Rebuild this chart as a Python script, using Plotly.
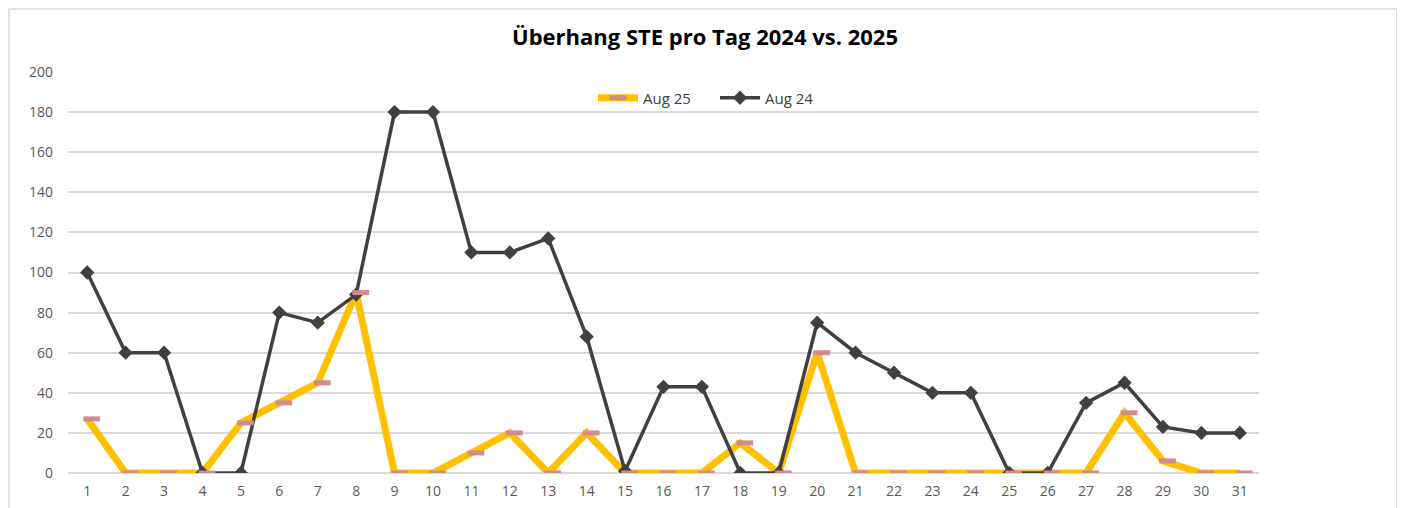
import plotly.graph_objects as go

days = [str(d) for d in range(1, 32)]
aug25 = [27, 0, 0, 0, 25, 35, 45, 90, 0, 0, 10, 20, 0, 20, 0, 0, 0, 15, 0, 60,
         0, 0, 0, 0, 0, 0, 0, 30, 6, 0, 0]
aug24 = [100, 60, 60, 0, 0, 80, 75, 89, 180, 180, 110, 110, 117, 68, 1, 43, 43, 0, 0, 75,
         60, 50, 40, 40, 0, 0, 35, 45, 23, 20, 20]
y_ticks = list(range(0, 201, 20))

# page body has an 8px margin; figure spans page px 8..1405 / 8..508
OFF = 8
W, H = 1405 - OFF, 508 - OFF
L, T = 68 - OFF, 72 - OFF
R = W - (1259 - OFF)
B = H - (473 - OFF)
pw, ph = W - L - R, H - T - B

def px(x):
    return (x - OFF - L) / pw

def py(y):
    return (H - B - (y - OFF)) / ph

YEL, PINK, DARK = "#ffc000", "#d08c8c", "#404040"
# marker dashes sit ~4.5px right of the data point in the original
shift = 4.5 / (pw / 31)

fig = go.Figure()
# legend entry for Aug 25 (line with dash marker)
fig.add_trace(go.Scatter(
    x=[None], y=[None], name="Aug 25", mode="lines+markers",
    line=dict(color=YEL, width=7),
    marker=dict(symbol="line-ew", size=12, color=PINK, line=dict(color=PINK, width=5)),
))
fig.add_trace(go.Scatter(
    x=days, y=aug25, name="Aug 25", mode="lines", showlegend=False,
    line=dict(color=YEL, width=7),
))
fig.add_trace(go.Scatter(
    x=days, y=aug25, name="Aug 25", mode="markers", showlegend=False,
    xaxis="x2",
    marker=dict(symbol="line-ew", size=12, color=PINK, line=dict(color=PINK, width=5)),
))
fig.add_trace(go.Scatter(
    x=days, y=aug24, name="Aug 24", mode="lines+markers",
    line=dict(color=DARK, width=3.5),
    marker=dict(symbol="diamond", size=11, color=DARK),
))

fig.add_shape(type="rect", xref="paper", yref="paper",
              x0=px(9), x1=px(1397),
              y0=-0.3, y1=py(9),
              line=dict(color="#d9d9d9", width=1.5), fillcolor="rgba(0,0,0,0)",
              layer="below")

fig.update_layout(
    width=W, height=H,
    margin=dict(l=L, r=R, t=T, b=B, autoexpand=False),
    paper_bgcolor="white", plot_bgcolor="white",
    font=dict(family="Open Sans, Liberation Sans, sans-serif", color="#595959", size=13),
    title=dict(text="<b>Überhang STE pro Tag 2024 vs. 2025</b>",
               x=px(705), xref="paper", xanchor="center",
               y=1 - (37 - OFF) / H, yanchor="middle",
               font=dict(size=22, color="#000000",
                         family="Open Sans, Liberation Sans, sans-serif")),
    legend=dict(orientation="h", x=px(715), xanchor="center",
                y=py(98), yanchor="middle",
                font=dict(size=15, color="#404040"),
                bgcolor="rgba(255,255,255,0)", itemwidth=40, entrywidth=67),
    showlegend=True,
    xaxis2=dict(type="category", overlaying="x", range=[-0.5 - shift, 30.5 - shift],
                visible=False, categoryorder="array", categoryarray=days),
)
fig.update_xaxes(selector=dict(anchor="y"))
fig.update_layout(xaxis=dict(type="category", range=[-0.5, 30.5], showgrid=False,
                             showline=False, ticks="", ticklabelstandoff=8, automargin=False,
                             categoryorder="array", categoryarray=days,
                             tickfont=dict(size=14, color="#595959")))
fig.update_yaxes(range=[0, 200], tickvals=y_ticks, showgrid=True,
                 gridcolor="#d9d9d9", gridwidth=1.5, zeroline=True,
                 zerolinecolor="#d9d9d9", zerolinewidth=1.5, showline=False,
                 ticks="", ticklabelstandoff=14, automargin=False,
                 tickfont=dict(size=14, color="#595959"))

fig.write_html("out.html")
